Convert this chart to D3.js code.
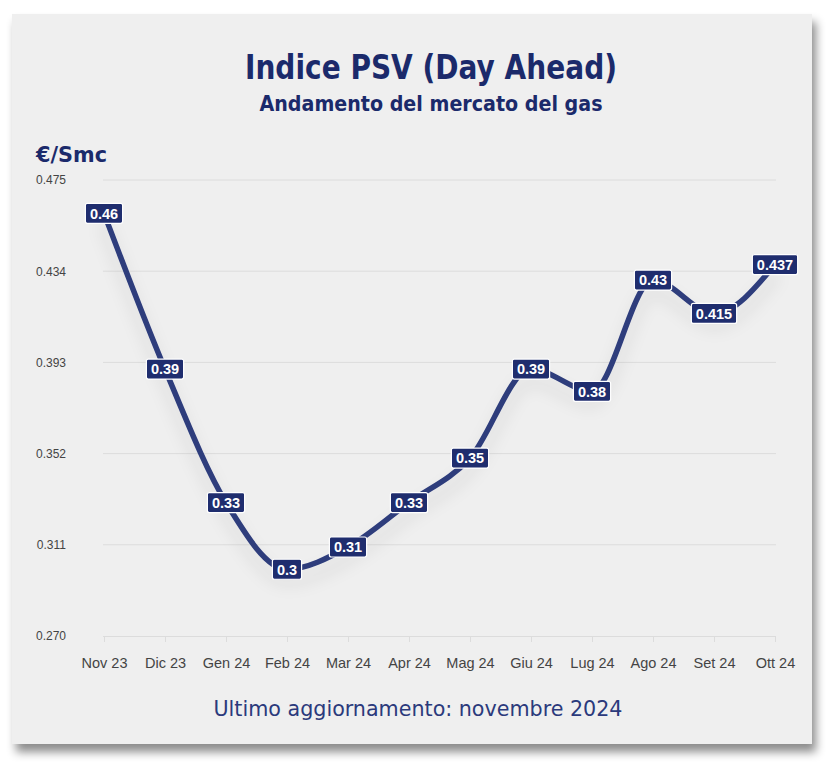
<!DOCTYPE html>
<html><head><meta charset="utf-8">
<script src="https://cdn.jsdelivr.net/npm/d3@7"></script>
<style>html,body{margin:0;padding:0;background:#fff;}</style>
</head><body>
<script>
const categories = ["Nov 23","Dic 23","Gen 24","Feb 24","Mar 24","Apr 24","Mag 24","Giu 24","Lug 24","Ago 24","Set 24","Ott 24"];
const values = [0.46,0.39,0.33,0.30,0.31,0.33,0.35,0.39,0.38,0.43,0.415,0.437];
const valueLabels = ["0.46","0.39","0.33","0.3","0.31","0.33","0.35","0.39","0.38","0.43","0.415","0.437"];
const yTicks = [0.270,0.311,0.352,0.393,0.434,0.475];

const W=829,H=770;
const svg=d3.select("body").append("svg").attr("width",W).attr("height",H);
const defs=svg.append("defs");
const cs=defs.append("filter").attr("id","cardShadow").attr("x","-10%").attr("y","-10%").attr("width","130%").attr("height","130%");
cs.append("feDropShadow").attr("dx",4).attr("dy",8).attr("stdDeviation",5).attr("flood-color","#000").attr("flood-opacity",0.45);
const ls=defs.append("filter").attr("id","lineShadow").attr("x","-10%").attr("y","-20%").attr("width","120%").attr("height","150%");
ls.append("feDropShadow").attr("dx",0).attr("dy",12).attr("stdDeviation",8).attr("flood-color","#000").attr("flood-opacity",0.12);

svg.append("rect").attr("x",12).attr("y",14).attr("width",800).attr("height",730).attr("fill","#efefef").attr("filter","url(#cardShadow)");

const cond="'DejaVu Sans Condensed','Liberation Sans Narrow','Roboto Condensed',sans-serif";
svg.append("text").attr("x",431).attr("y",79).attr("text-anchor","middle").attr("font-family",cond).attr("font-weight","bold").attr("font-size",33).attr("fill","#1b2a6b").attr("textLength",372).attr("lengthAdjust","spacingAndGlyphs").text("Indice PSV (Day Ahead)");
svg.append("text").attr("x",431).attr("y",111).attr("text-anchor","middle").attr("font-family",cond).attr("font-weight","bold").attr("font-size",21).attr("fill","#1b2a6b").attr("textLength",343).attr("lengthAdjust","spacingAndGlyphs").text("Andamento del mercato del gas");
svg.append("text").attr("x",36).attr("y",162).attr("font-family",cond).attr("font-weight","bold").attr("font-size",22).attr("fill","#1b2a6b").attr("textLength",71).attr("lengthAdjust","spacingAndGlyphs").text("€/Smc");
svg.append("text").attr("x",418).attr("y",716).attr("text-anchor","middle").attr("font-family",cond).attr("font-size",22).attr("fill","#2b3a7c").attr("textLength",409).attr("lengthAdjust","spacingAndGlyphs").text("Ultimo aggiornamento: novembre 2024");

const x=d3.scalePoint().domain(categories).range([104,775]);
const y=d3.scaleLinear().domain([0.270,0.475]).range([636,180]);

const g=svg.append("g");
g.selectAll("line.grid").data(yTicks.slice(1)).join("line").attr("class","grid")
 .attr("x1",103).attr("x2",776).attr("y1",d=>y(d)).attr("y2",d=>y(d)).attr("stroke","#dcdcdc").attr("stroke-width",1);

const ya=svg.append("g").attr("transform","translate(66,0)").call(d3.axisLeft(y).tickValues(yTicks).tickFormat(d3.format(".3f")).tickSize(0).tickPadding(0));
ya.select(".domain").remove();
ya.selectAll("text").attr("font-family","'Liberation Sans',Arial,sans-serif").attr("font-size",12).attr("fill","#444");

const xa=svg.append("g").attr("transform","translate(0,636)").call(d3.axisBottom(x).tickSize(6).tickPadding(16));
xa.select(".domain").attr("d","M103,0.5H776").attr("stroke","#dcdcdc");
xa.selectAll(".tick line").attr("stroke","#dcdcdc");
xa.selectAll("text").attr("font-family","'Liberation Sans',Arial,sans-serif").attr("font-size",14.5).attr("fill","#444");

const line=d3.line().x((d,i)=>x(categories[i])).y(d=>y(d)).curve(d3.curveMonotoneX);
svg.append("path").datum(values).attr("d",line).attr("fill","none").attr("stroke","#2e3d7c").attr("stroke-width",5.5).attr("stroke-linejoin","round").attr("stroke-linecap","round").attr("filter","url(#lineShadow)");

const lab=svg.append("g").selectAll("g").data(values).join("g").attr("transform",(d,i)=>`translate(${x(categories[i])},${y(d)})`);
lab.each(function(d,i){
  const t=valueLabels[i];
  const gg=d3.select(this);
  const txt=gg.append("text").attr("text-anchor","middle").attr("dy","0.36em").attr("font-family","'Liberation Sans',Arial,sans-serif").attr("font-weight","bold").attr("font-size",14.5).attr("fill","#fff").text(t);
  const w=txt.node().getComputedTextLength()+9;
  gg.insert("rect","text").attr("x",-w/2).attr("y",-10).attr("width",w).attr("height",20).attr("rx",2).attr("fill","#1f2d6e").attr("stroke","#fff").attr("stroke-width",1.2);
});
</script>
</body></html>
